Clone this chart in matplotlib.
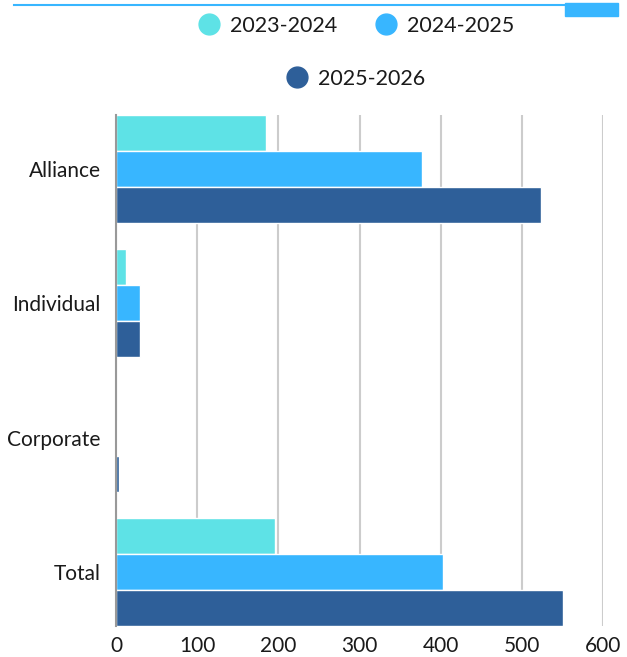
import matplotlib
matplotlib.use("Agg")
import matplotlib.pyplot as plt
from matplotlib.patches import Rectangle
from matplotlib.lines import Line2D
import numpy as np

plt.rcParams['font.family'] = ['Lato', 'DejaVu Sans']

categories = ["Alliance", "Individual", "Corporate", "Total"]
series_names = ["2023-2024", "2024-2025", "2025-2026"]
v_2023 = [185, 12, 0, 196]
v_2024 = [377, 30, 1, 403]
v_2025 = [524, 30, 4, 551]
colors = ["#5ee2e6", "#38b6ff", "#2e5f99"]
x_ticks = [0, 100, 200, 300, 400, 500, 600]

W, H = 627, 657
fig = plt.figure(figsize=(W / 100, H / 100), dpi=100)

def fx(px):
    return px / W

def fy(py):
    return 1 - py / H

ax = fig.add_axes([fx(116), fy(626), fx(603) - fx(116), fy(115) - fy(626)])

y = np.arange(len(categories))
bh = 0.267
for i, (vals, c) in enumerate(zip([v_2023, v_2024, v_2025], colors)):
    ax.barh(y + (i - 1) * bh, vals, height=bh, color=c, edgecolor="white",
            linewidth=1.0, zorder=3)

ax.set_xlim(0, 600)
ax.set_ylim(3.4, -0.4)
ax.set_yticks(y)
ax.set_yticklabels(categories)
ax.set_xticks(x_ticks)
ax.set_xticklabels([str(t) for t in x_ticks])
ax.tick_params(axis='both', length=0, labelsize=15, labelcolor="#1a1a1a")
ax.tick_params(axis='y', pad=11)
ax.tick_params(axis='x', pad=7)
ax.grid(axis='x', color="#cccccc", linewidth=1.5, zorder=0)
for s in ["top", "right", "bottom"]:
    ax.spines[s].set_visible(False)
ax.spines["left"].set_color("#999999")
ax.spines["left"].set_linewidth(1.5)
ax.spines["left"].set_zorder(4)

# legend (manual)
legend_pos = [(209, 24), (386, 24), (297, 77)]
for (cx, cy), name, c in zip(legend_pos, series_names, colors):
    fig.add_artist(Line2D([fx(cx)], [fy(cy)], marker='o', markersize=15,
                          color=c, linestyle='none', transform=fig.transFigure))
    fig.text(fx(cx + 21), fy(cy), name, ha='left', va='center_baseline',
             fontsize=15.5, color="#1a1a1a")

# top artifact from the source
fig.add_artist(Line2D([fx(14), fx(565)], [fy(5), fy(5)], color="#38b6ff",
                      linewidth=1.5, transform=fig.transFigure))
fig.add_artist(Rectangle((fx(565), fy(16)), fx(618) - fx(565), fy(3) - fy(16),
                         color="#38b6ff", transform=fig.transFigure))

fig.savefig("out.png", dpi=100)
